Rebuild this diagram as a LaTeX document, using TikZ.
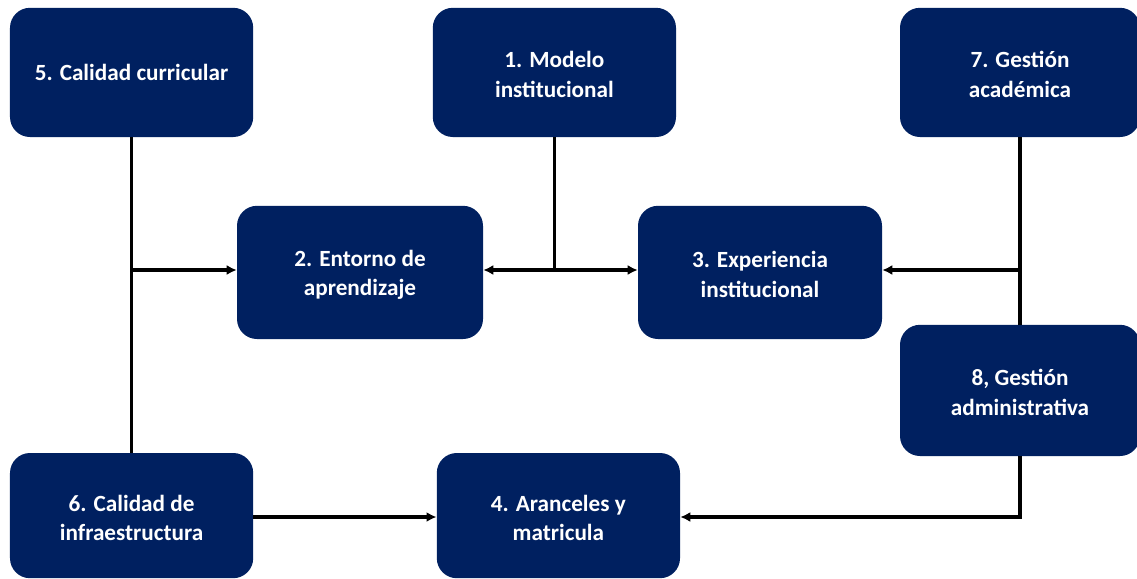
\documentclass[tikz,border=0pt]{standalone}
\usepackage{fontspec}
\setmainfont{Carlito}
\usepackage{xcolor}
\usepackage{tikz}
\usetikzlibrary{arrows.meta}
\definecolor{navy}{RGB}{0,32,96}
\tikzset{
	box/.style = {fill=navy, rounded corners=0.5cm, minimum width=6.08cm, minimum height=3.23cm,
		text=white, align=center, font=\fontsize{16.5}{21}\selectfont\bfseries, inner sep=0pt},
	link/.style = {line width=2.4pt, black},
	arr/.style = {link, -{Latex[length=0.25cm, width=0.25cm]}}
}

\begin{document}
\begin{tikzpicture}
	\useasboundingbox (0,0) rectangle (28.425,-14.45);
	\node [box] (b5) at (3.29,-1.81) {5. Calidad curricular};
	\node [box] (b1) at (13.86,-1.81) {\strut 1. Modelo\\institucional};
	\node [box, minimum width=6.0cm] (b7) at (25.5,-1.81) {\strut 7. Gestión\\académica};
	\node [box, minimum width=6.15cm, minimum height=3.33cm] (b2) at (9.0,-6.81) {\strut 2. Entorno de\\aprendizaje};
	\node [box, minimum width=6.1cm, minimum height=3.33cm] (b3) at (19.0,-6.81) {\strut 3. Experiencia\\institucional};
	\node [box, minimum width=6.0cm, minimum height=3.28cm] (b8) at (25.5,-9.76) {\strut 8, Gestión\\administrativa};
	\node [box, minimum height=3.13cm] (b6) at (3.29,-12.89) {\strut 6. Calidad de\\infraestructura};
	\node [box, minimum height=3.13cm] (b4) at (13.96,-12.89) {\strut 4. Aranceles y\\matricula};
	% junctions
	\coordinate (j5) at (b5.south |- 0,-6.75);
	\coordinate (j1) at (b1.south |- 0,-6.75);
	\coordinate (j7) at (b7.south |- 0,-6.75);
	\coordinate (j8) at (b8.south |- 0,-12.925);
	\draw [link] (b5.south) -- (b6.north);
	\draw [arr] (j5) -- (j5 -| b2.west);
	\draw [link] (b1.south) -- (j1);
	\draw [arr] (j1) -- (j1 -| b2.east);
	\draw [arr] (j1) -- (j1 -| b3.west);
	\draw [link] (b7.south) -- (b8.north);
	\draw [arr] (j7) -- (j7 -| b3.east);
	\draw [arr] (b8.south) -- (j8) -- (j8 -| b4.east);
	\draw [arr] (b6.east |- j8) -- (j8 -| b4.west);
\end{tikzpicture}
\end{document}
